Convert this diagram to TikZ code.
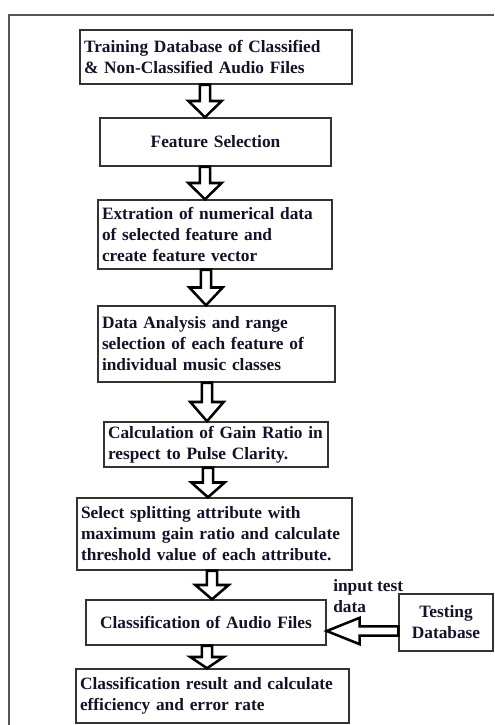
\documentclass[tikz,border=0pt]{standalone}
\usepackage{fontspec}
\setmainfont{Liberation Serif}
\usetikzlibrary{calc}
\definecolor{flowink}{HTML}{12122A}
\definecolor{flowedge}{HTML}{333333}
\definecolor{flowframe}{HTML}{555555}
\tikzset{
  stepbox/.style={rectangle, draw=flowedge, line width=1.1pt, inner xsep=3pt, inner ysep=2pt,
                  align=left, font=\fontsize{13}{15.75}\selectfont\bfseries, text=flowink},
  stepc/.style={stepbox, align=center},
  blockarrow/.style={draw=black, fill=white, line width=1.9pt, line join=miter},
  lbl/.style={font=\fontsize{13}{15.75}\selectfont\bfseries, text=flowink, align=left, inner sep=0pt},
}
\begin{document}
\begin{tikzpicture}[x=0.75pt, y=-0.75pt]
  \useasboundingbox (0,0) rectangle (494,725);
  % page frame
  \draw[flowframe, line width=1.1pt] (9,725) -- (9,15) -- (494,15);
  % training chain
  \node[stepbox, text width=198pt, minimum height=40.5pt] (train) at (216,57)
    {Training Database of Classified\\ \& Non-Classified Audio Files};
  \node[stepc, text width=167.25pt, minimum height=36pt] (feat) at (215.5,142) {Feature Selection};
  \node[stepbox, text width=169.5pt, minimum height=51.75pt] (extr) at (215,234.5)
    {Extration of numerical data\\ of selected feature and\\ create feature vector};
  \node[stepbox, text width=171.75pt, minimum height=57pt] (anal) at (216.5,344)
    {Data Analysis and range\\ selection of each feature of\\ individual music classes};
  \node[stepbox, text width=162pt, minimum height=33.75pt] (gain) at (216,444.5)
    {Calculation of Gain Ratio in\\ respect to Pulse Clarity.};
  \node[stepbox, text width=200.25pt, minimum height=54pt] (split) at (214.5,534)
    {Select splitting attribute with\\ maximum gain ratio and calculate\\ threshold value of each attribute.};
  \node[stepc, text width=174pt, minimum height=33.75pt] (clsf) at (206,622.5) {Classification of Audio Files};
  \node[stepbox, text width=198.75pt, minimum height=40.5pt] (result) at (212.5,696)
    {Classification result and calculate\\ efficiency and error rate};
  % testing side
  \node[stepc, text width=64.5pt, minimum height=42.75pt] (test) at (446,622.5) {Testing\\ Database};
  \node[lbl, anchor=west] (inlbl) at (333,596) {input test\\ data};
  % block arrows
  \foreach \a/\b/\ax in {train/feat/205, feat/extr/205, extr/anal/206, anal/gain/207,
                         gain/split/208, split/clsf/212, clsf/result/207}
    \draw[blockarrow] let \p0=(\ax,0), \p1=(\a.south), \p2=(\b.north),
                          \p3=($(\a.south)!0.5!(\b.north)$) in
      (\x0-3.9pt,\y1) -- (\x0+3.9pt,\y1) -- (\x0+3.9pt,\y3) -- (\x0+12.5pt,\y3)
      -- (\x0,\y2) -- (\x0-12.5pt,\y3) -- (\x0-3.9pt,\y3) -- cycle;
  \draw[blockarrow] let \p1=($(test.west)+(0,8.5)$), \p2=($(clsf.east)+(0,8.5)$),
                        \p3=($(\p2)!0.46!(\p1)$) in
    (\x1,\y1-3.4pt) -- (\x1,\y1+3.4pt) -- (\x3,\y1+3.4pt) -- (\x3,\y1+9.9pt)
    -- (\x2,\y2) -- (\x3,\y1-9.9pt) -- (\x3,\y1-3.4pt) -- cycle;
\end{tikzpicture}
\end{document}
